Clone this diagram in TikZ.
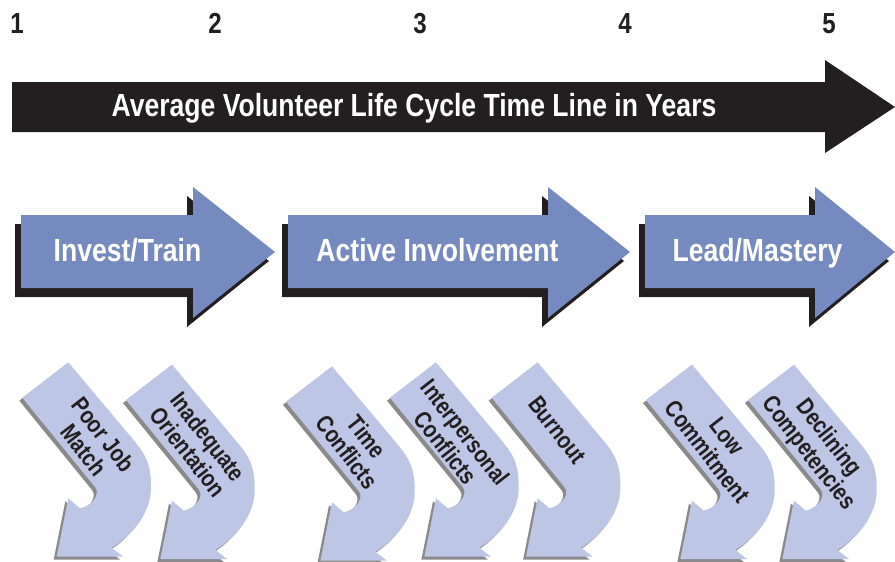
\documentclass[tikz,border=0pt]{standalone}
\usepackage{fontspec}
\setmainfont{Liberation Sans}[FakeStretch=0.83]
\definecolor{barblack}{RGB}{35,31,32}
\definecolor{bandblue}{RGB}{117,138,191}
\definecolor{paleblue}{RGB}{189,198,228}
\definecolor{shadowgray}{RGB}{138,138,140}
\tikzset{
  curvedband/.style={insert path={(0,0)--(46,-35.4)--(112.7,44) .. controls (126.8,61) and (128.7,72) .. (128.7,90)
    .. controls (128.7,115) and (110,138) .. (89.4,150)--(101,159)--(34.4,159)--(46,100.6)--(57.7,110.6)
    .. controls (70,108) and (78.4,96.3) .. (72.7,89.3)--cycle}},
  year/.style={anchor=base,text=barblack,font=\fontsize{29}{30}\selectfont\bfseries},
  stage/.style={anchor=base,text=white,font=\fontsize{32}{33}\selectfont\bfseries},
  risk/.style={align=center,rotate=-52,inner sep=0pt,text=barblack,font=\fontsize{24}{25}\selectfont\bfseries}
}
\begin{document}
\begin{tikzpicture}[x=1pt,y=-1pt]
 \useasboundingbox (0,0) rectangle (895,562);
 \foreach \n/\x in {1/17,2/215,3/420,4/625,5/829}
   \node[year] (year\n) at (\x,33.3) {\n};
 \fill[barblack] (12,82)--(825,82)--(825,60)--(895,107)--(825,153)--(825,132)--(12,132)--cycle;
 \node[stage] (timeline) at (414,116.7) {Average Volunteer Life Cycle Time Line in Years};
 \foreach \l/\h/\t in {21/193/275,288/548/630,645/815/895} {
   \fill[barblack,shift={(-6,9)}] (\l,215)--(\h,215)--(\h,187)--(\t,252)--(\h,318)--(\h,288)--(\l,288)--cycle;
   \fill[bandblue] (\l,215)--(\h,215)--(\h,187)--(\t,252)--(\h,318)--(\h,288)--(\l,288)--cycle;
 }
 \node[stage] (invest) at (127.5,261.7) {Invest/Train};
 \node[stage] (active) at (437.5,261.7) {Active Involvement};
 \node[stage] (lead) at (757.5,261.7) {Lead/Mastery};
 \foreach \ax/\ay/\tx/\ty/\txt [count=\i] in {22.3/397.7/71.4/44.6/{Poor Job\\Match},
     126/400/72.3/44.3/{Inadequate\\Orientation},286/401.7/71/42.6/{Time\\Conflicts},
     390/397.7/65.7/42.3/{Interpersonal\\Conflicts},491.7/397.7/65.6/32.3/{Burnout},
     646/400/71/44/{Low\\Commitment},748/400/70/46/{Declining\\Competencies}} {
   \begin{scope}[shift={(\ax,\ay)}]
     \fill[shadowgray,shift={(-3,3)},curvedband];
     \fill[paleblue,curvedband];
     \node[risk] (risk\i) at (\tx,\ty) {\txt};
   \end{scope}
 }
\end{tikzpicture}
\end{document}
